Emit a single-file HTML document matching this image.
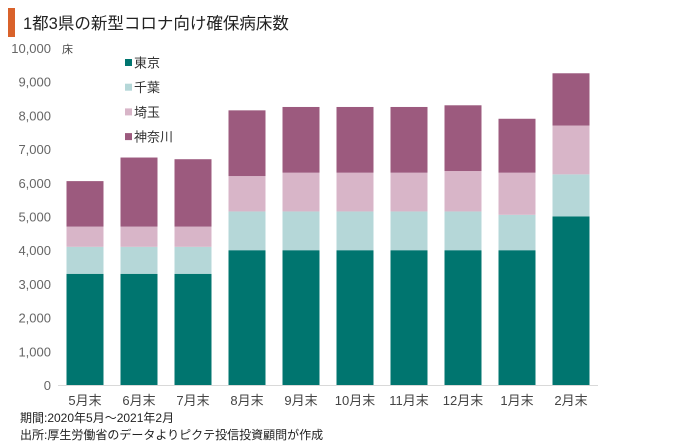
<!DOCTYPE html>
<html><head><meta charset="utf-8"><style>
body{margin:0;background:#fff;font-family:"Liberation Sans","Noto Sans CJK JP",sans-serif;}
#wrap{position:relative;width:680px;height:447px;overflow:hidden;}
</style></head><body>
<div id="wrap">
<svg id="chart" width="680" height="447" font-family="Liberation Sans, Noto Sans CJK JP, sans-serif">
<rect x="8" y="8" width="7" height="29" fill="#d9622b"/>
<text x="23" y="29" font-size="16.5" fill="#222">1都3県の新型コロナ向け確保病床数</text>
<text x="62" y="53" font-size="11" fill="#444">床</text>
<text x="20" y="422" font-size="12" fill="#222">期間:2020年5月～2021年2月</text>
<text x="20" y="439" font-size="12" fill="#222">出所:厚生労働省のデータよりピクテ投信投資顧問が作成</text>
</svg>
</div>
<script>
const categories=["5月末","6月末","7月末","8月末","9月末","10月末","11月末","12月末","1月末","2月末"];
const tokyo=[3300,3300,3300,4000,4000,4000,4000,4000,4000,5000];
const chiba=[800,800,800,1150,1150,1150,1150,1150,1050,1250];
const saitama=[600,600,600,1050,1150,1150,1150,1200,1250,1450];
const kanagawa=[1350,2050,2000,1950,1950,1950,1950,1950,1600,1550];
const seriesNames=["東京","千葉","埼玉","神奈川"];
const yTicks=[0,1000,2000,3000,4000,5000,6000,7000,8000,9000,10000];
const tickLabels=["0","1,000","2,000","3,000","4,000","5,000","6,000","7,000","8,000","9,000","10,000"];

const svg=document.getElementById('chart');
const NS='http://www.w3.org/2000/svg';
const y0=385,yTop=48,yMax=10000;
const xL=58,xR=598;
const y=v=>y0-(v/yMax)*(y0-yTop);
const step=(xR-xL)/categories.length;
const xc=i=>xL+step*(i+0.5);
const bw=37;
const colors=["#00756f","#b5d7d8","#d8b5c8","#9c5a7e"];
const series=[tokyo,chiba,saitama,kanagawa];
function mk(tag,attrs){const e=document.createElementNS(NS,tag);for(const k in attrs)e.setAttribute(k,attrs[k]);svg.appendChild(e);return e;}

yTicks.forEach((t,i)=>{
  const tx=mk('text',{x:51,y:y(t)+5,'font-size':13,fill:'#666','text-anchor':'end'});
  tx.textContent=tickLabels[i];
  
  
});
const base=mk('line',{x1:xL,x2:xR,y1:y0+0.5,y2:y0+0.5,stroke:'#d9d9d9','stroke-width':1});



categories.forEach((c,i)=>{
  let cum=0;
  series.forEach((s,k)=>{
    const v=s[i];
    const r=mk('rect',{x:xc(i)-bw/2,y:y(cum+v),width:bw,height:y(cum)-y(cum+v),fill:colors[k]});
    
    
    cum+=v;
  });
  const tx=mk('text',{x:xc(i),y:405,'font-size':13,fill:'#444','text-anchor':'middle'});
  tx.textContent=c;
  
  
});

seriesNames.forEach((n,k)=>{
  const ly=63+k*24.7;
  const sq=mk('rect',{x:125,y:ly-4,width:7,height:7,fill:colors[k]});
  
  
  const tx=mk('text',{x:134,y:ly+4.5,'font-size':13,fill:'#333'});
  tx.textContent=n;
  
  
});
</script>
</body></html>
